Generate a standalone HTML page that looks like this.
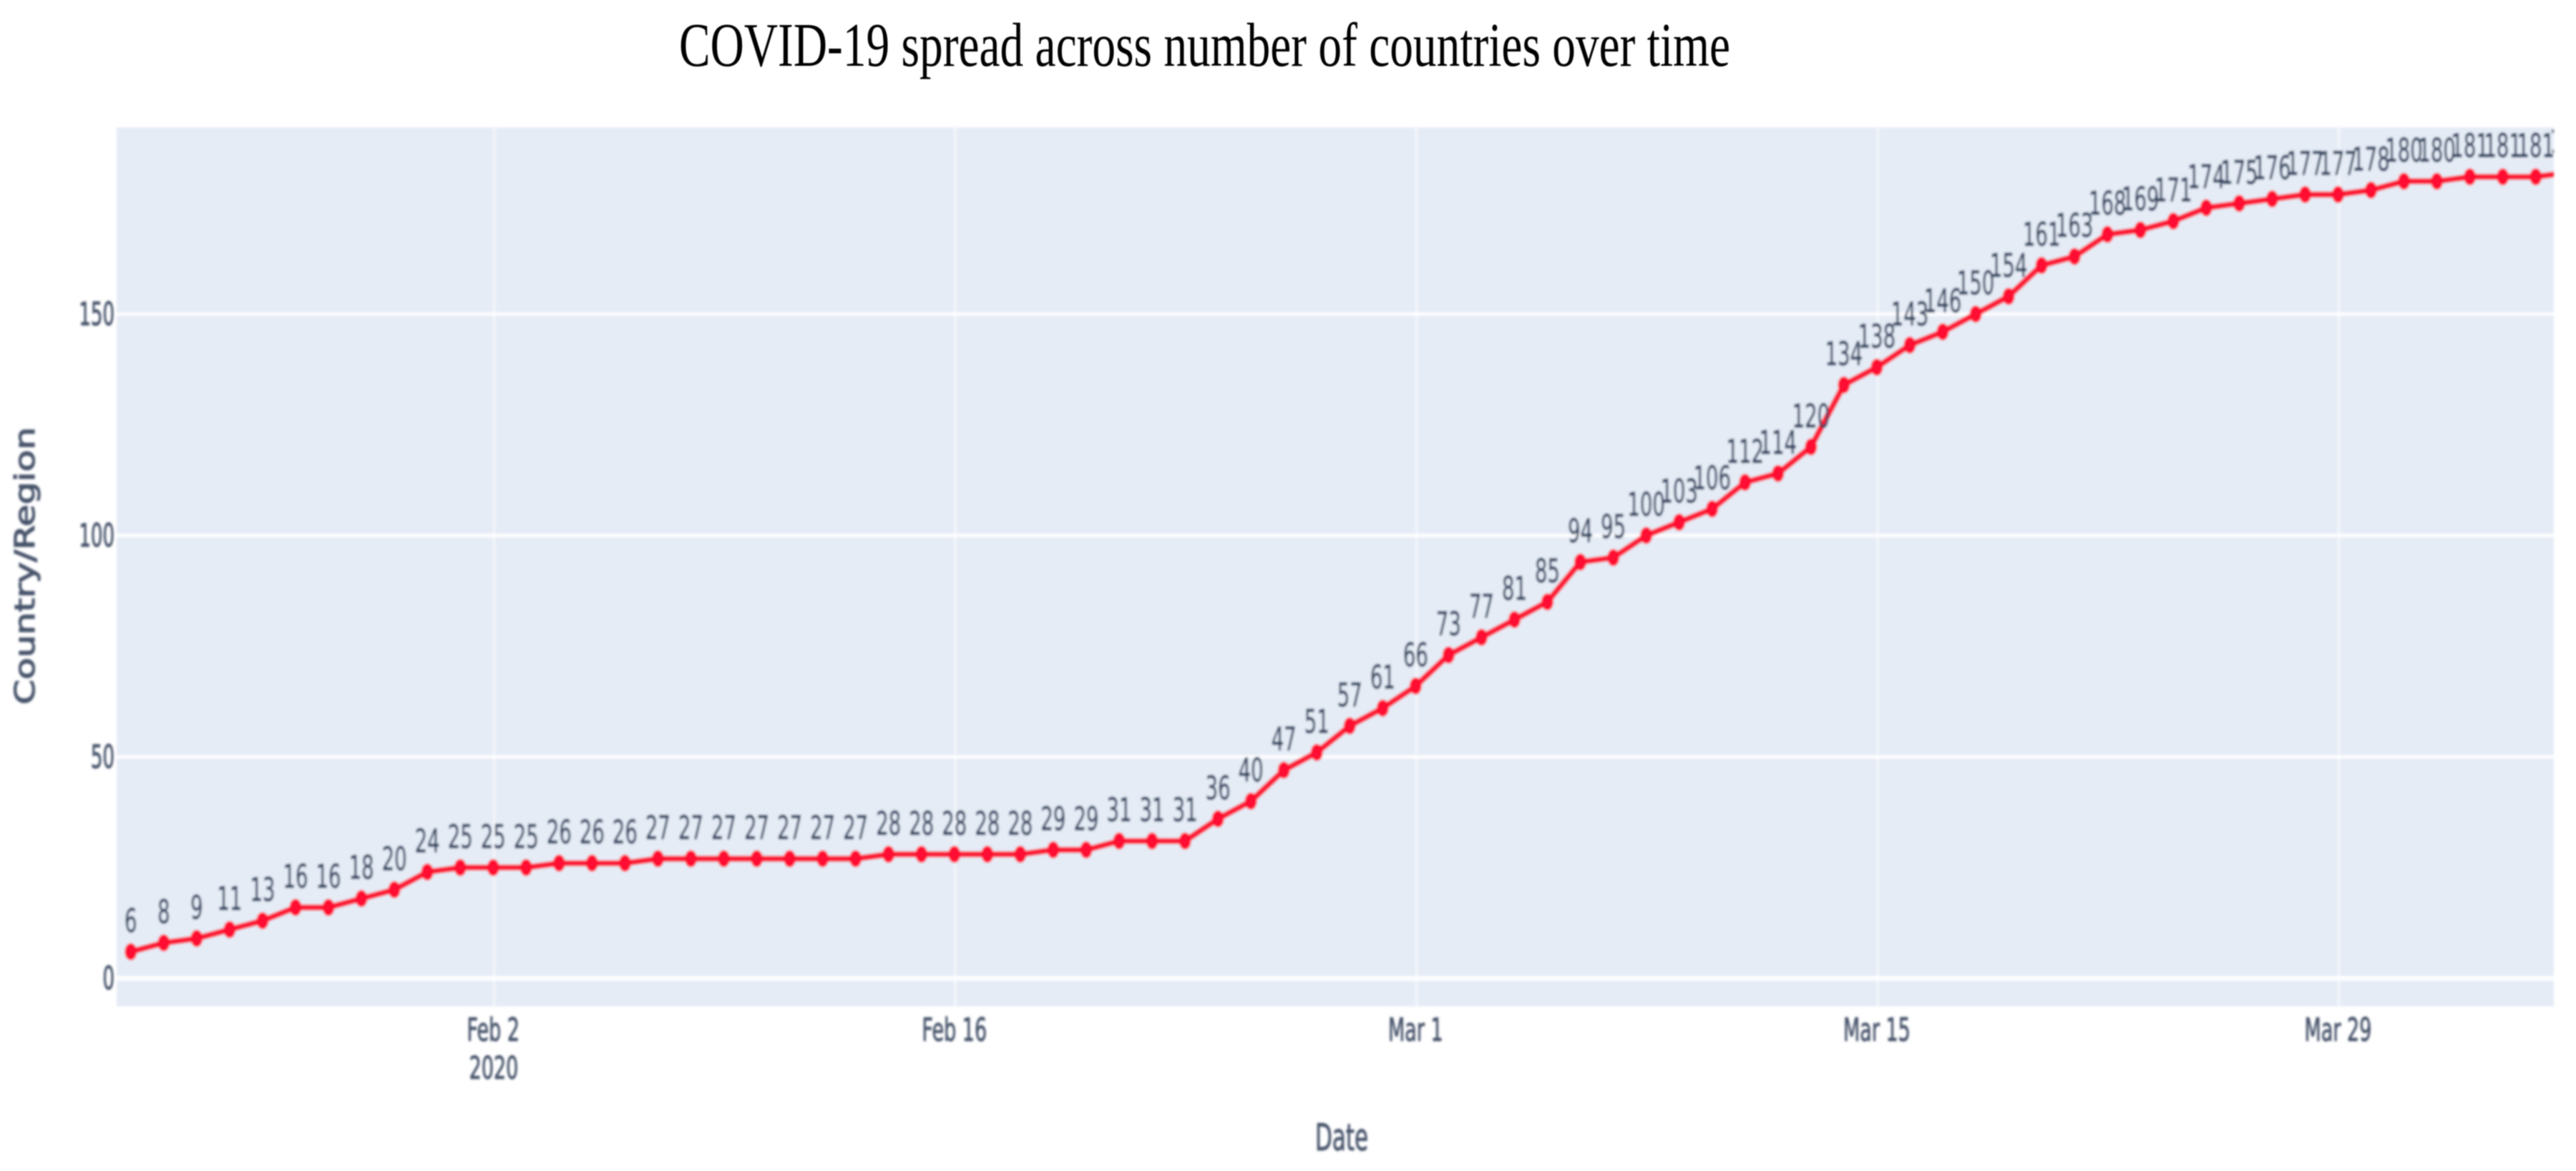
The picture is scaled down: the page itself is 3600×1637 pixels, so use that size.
<!DOCTYPE html>
<html lang="en">
<head>
<meta charset="utf-8">
<title>COVID-19 spread across number of countries over time</title>
<style>
  html, body { margin: 0; padding: 0; background: #ffffff; }
  body { width: 3600px; height: 1637px; overflow: hidden; }
  svg { display: block; }
  text { font-family: "DejaVu Sans", "Liberation Sans", sans-serif; }
  #chart-title { font-family: "Liberation Serif", serif; }
</style>
</head>
<body>
<svg id="chart" xmlns="http://www.w3.org/2000/svg" width="3600" height="1637" viewBox="0 0 3600 1637">
  <defs>
    <clipPath id="plot-clip"><rect x="163" y="178" width="3406" height="1229"/></clipPath>
    <filter id="soft" x="-2%" y="-2%" width="104%" height="104%"><feGaussianBlur stdDeviation="1.5"/></filter>
    <filter id="soft-title" x="-2%" y="-20%" width="104%" height="140%"><feGaussianBlur stdDeviation="0.7"/></filter>
  </defs>
  <rect x="0" y="0" width="3600" height="1637" fill="#ffffff"/>
  <text id="chart-title" x="949" y="92" font-size="87" fill="#000000" textLength="1469" lengthAdjust="spacingAndGlyphs" filter="url(#soft-title)">COVID-19 spread across number of countries over time</text>
  <g id="soft-layer" filter="url(#soft)">
    <rect x="163" y="178" width="3406" height="1229" fill="#e5ecf6"/>
    <g id="grid"></g>
    <g id="y-ticks"></g>
    <g id="x-ticks"></g>
    <g clip-path="url(#plot-clip)">
      <g id="series"></g>
      <g id="labels"></g>
    </g>
    <text transform="translate(48,985) rotate(-90)" font-size="38" fill="#46536a" stroke="#46536a" stroke-width="1.2" textLength="388" lengthAdjust="spacingAndGlyphs">Country/Region</text>
    <text transform="translate(1875,1608) scale(1,1.68)" text-anchor="middle" font-size="31" fill="#46536a" stroke="#46536a" stroke-width="0.6">Date</text>
    <text transform="translate(690,1508) scale(1,1.62)" text-anchor="middle" font-size="27" fill="#46536a" stroke="#46536a" stroke-width="0.6">2020</text>
  </g>
</svg>
<script>
const startDate = "2020-01-22";
const countryCounts = [6, 8, 9, 11, 13, 16, 16, 18, 20, 24, 25, 25, 25, 26, 26, 26, 27, 27, 27, 27, 27, 27, 27, 28, 28, 28, 28, 28, 29, 29, 31, 31, 31, 36, 40, 47, 51, 57, 61, 66, 73, 77, 81, 85, 94, 95, 100, 103, 106, 112, 114, 120, 134, 138, 143, 146, 150, 154, 161, 163, 168, 169, 171, 174, 175, 176, 177, 177, 178, 180, 180, 181, 181, 181, 182];
const yTickValues = [0, 50, 100, 150];
const xTickDates = ["2020-02-02", "2020-02-16", "2020-03-01", "2020-03-15", "2020-03-29"];
const xTickLabels = ["Feb 2", "Feb 16", "Mar 1", "Mar 15", "Mar 29"];

const SVG_NS = "http://www.w3.org/2000/svg";
const MS_PER_DAY = 86400000;
const plotLeft = 163, plotRight = 3569, plotTop = 178, plotBottom = 1407;

function xOfDay(dayIndex) { return 182.8 + 46.04 * dayIndex; }
function xOfDate(dateString) { return xOfDay((Date.parse(dateString) - Date.parse(startDate)) / MS_PER_DAY); }
function yOfValue(value) { return 1367.6 - 6.19 * value; }

function make(tag, parent, attrs) {
  const el = document.createElementNS(SVG_NS, tag);
  for (const key in attrs) { el.setAttribute(key, attrs[key]); }
  parent.appendChild(el);
  return el;
}

const grid = document.getElementById("grid");
const yTicks = document.getElementById("y-ticks");
const xTicks = document.getElementById("x-ticks");
const series = document.getElementById("series");
const labels = document.getElementById("labels");

xTickDates.forEach(function (date, i) {
  const x = xOfDate(date) + 1.2;
  const line = make("line", grid, { x1: x, x2: x, y1: plotTop, y2: plotBottom, stroke: "#ffffff", "stroke-width": 3, "stroke-opacity": 0.6 });
  
  
  const label = make("text", xTicks, { transform: "translate(" + xOfDate(date) + ",1455) scale(1,1.65)", "text-anchor": "middle", "font-size": 27, fill: "#46536a", stroke: "#46536a", "stroke-width": 0.6 });
  label.textContent = xTickLabels[i];
  
  
});

yTickValues.forEach(function (value) {
  const y = yOfValue(value);
  const line = make("line", grid, { x1: plotLeft, x2: plotRight, y1: y, y2: y, stroke: "#ffffff", "stroke-width": value === 0 ? 7 : 5, "stroke-opacity": 0.9 });
  
  
  const label = make("text", yTicks, { transform: "translate(160," + (y + 15.5) + ") scale(1,1.72)", "text-anchor": "end", "font-size": 26, fill: "#46536a", stroke: "#46536a", "stroke-width": 0.6 });
  label.textContent = String(value);
  
  
});

const linePoints = countryCounts.map(function (value, i) {
  return xOfDay(i).toFixed(1) + "," + yOfValue(value).toFixed(1);
}).join(" ");
const seriesLine = make("polyline", series, { points: linePoints, fill: "none", stroke: "#fb1a38", "stroke-width": 8.5, "stroke-linejoin": "round" });



countryCounts.forEach(function (value, i) {
  const x = xOfDay(i), y = yOfValue(value);
  const marker = make("ellipse", series, { cx: x, cy: y, rx: 8.5, ry: 12, fill: "#ff1030" });
  
  
  const label = make("text", labels, { transform: "translate(" + x + "," + (y - 27.5) + ") scale(1,1.64)", "text-anchor": "middle", "font-size": 27.5, fill: "#2a3f5f", stroke: "#2a3f5f", "stroke-width": 0.5 });
  label.textContent = String(value);
  
  
});
</script>
</body>
</html>
